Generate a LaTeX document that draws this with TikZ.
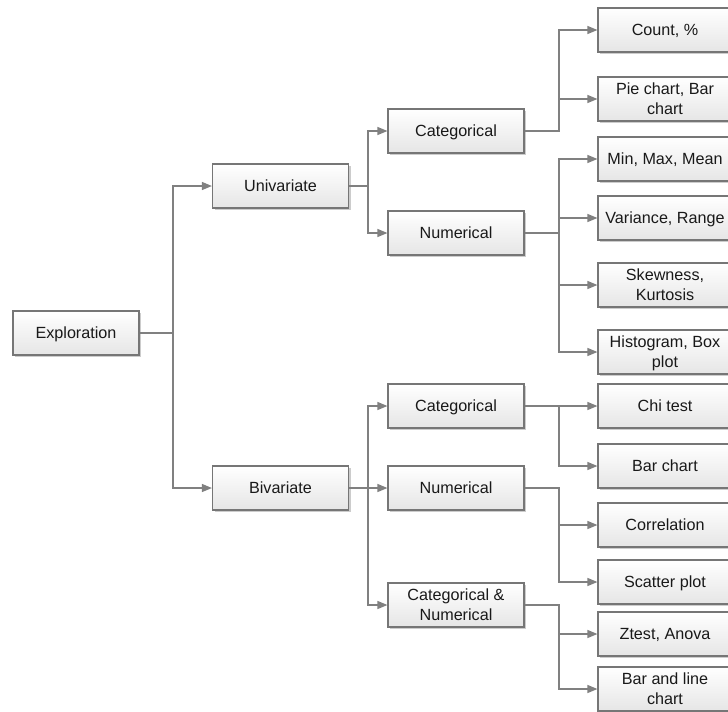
\documentclass[tikz,border=0pt]{standalone}
\usepackage{fontspec}
\setmainfont{Liberation Sans}
\usetikzlibrary{arrows.meta,shadows}
\definecolor{linegray}{RGB}{128,128,128}
\definecolor{boxgray}{RGB}{118,118,118}
\tikzset{
 box/.style={draw=boxgray, line width=0.8pt, top color=white, bottom color=gray!20,
  drop shadow={shadow xshift=0.06cm, shadow yshift=-0.06cm, fill=gray!40, opacity=1},
  minimum width=3.4cm, minimum height=1.1cm, align=center, inner sep=1pt,
  text depth=0pt, font=\fontsize{11.5}{14.2}\selectfont, text=black!90},
 leaf/.style={box, minimum width=3.35cm},
 link/.style={draw=linegray, line width=0.9pt, -{Triangle[length=0.25cm,width=0.2cm]}},
}

\begin{document}
\begin{tikzpicture}[x=0.025cm,y=-0.025cm]
\useasboundingbox (0,0) rectangle (728,711);

% junction columns
\coordinate (j1) at (173,0);
\coordinate (j2) at (368,0);
\coordinate (j3) at (559,0);

\node[box, minimum width=3.15cm] (expl) at (76,333) {Exploration};

\node[box] (uni) at (280.5,186) {Univariate};
\node[box] (bi) at (280.5,488) {Bivariate};

\node[box] (ucat) at (456,131) {Categorical};
\node[box] (unum) at (456,233) {Numerical};
\node[box] (bcat) at (456,406) {Categorical};
\node[box] (bnum) at (456,488) {Numerical};
\node[box] (bcn) at (456,605) {Categorical \&\\Numerical};

\foreach \nm/\yy/\txt in {cnt/30/{Count, \%}, pie/99/{Pie chart, Bar\\chart},
  mmm/159/{Min, Max, Mean}, var/218/{Variance, Range}, skew/285/{Skewness,\\Kurtosis},
  hist/352/{Histogram, Box\\plot}, chi/406/{Chi test}, barc/466/{Bar chart},
  corr/525/{Correlation}, scat/582/{Scatter plot}, zt/634/{Ztest, Anova},
  bl/689/{Bar and line\\chart}}
  \node[leaf] (\nm) at (665,\yy) {\txt};

\foreach \t in {uni,bi}
  \draw[link] (expl.east) -- (expl.east -| j1) |- (\t.west);
\foreach \t in {ucat,unum}
  \draw[link] (uni.east) -- (uni.east -| j2) |- (\t.west);
\foreach \t in {bcat,bnum,bcn}
  \draw[link] (bi.east) -- (bi.east -| j2) |- (\t.west);

\foreach \s/\t in {ucat/cnt, ucat/pie, unum/mmm, unum/var, unum/skew, unum/hist,
  bcat/chi, bcat/barc, bnum/corr, bnum/scat, bcn/zt, bcn/bl}
  \draw[link] (\s.east) -- (\s.east -| j3) |- (\t.west);

\end{tikzpicture}
\end{document}
